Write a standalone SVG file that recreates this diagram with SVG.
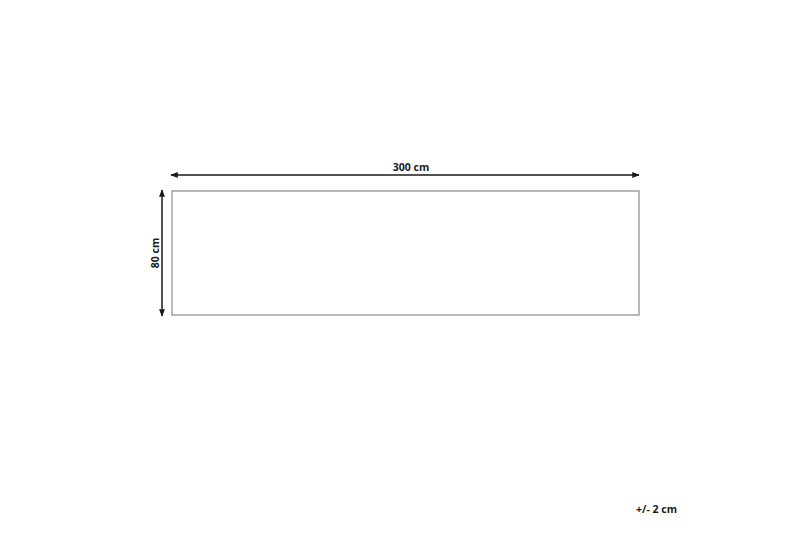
<svg xmlns="http://www.w3.org/2000/svg" width="800" height="533" viewBox="0 0 800 533">
<style>
.t{font-family:"Open Sans","Liberation Sans",sans-serif;font-weight:bold;font-size:10.5px;fill:#1a1a1a}
.d{stroke:#1a1a1a;stroke-width:1.5;fill:none}
</style>
<defs>
<marker id="a" viewBox="0 0 10 10" refX="9" refY="5" markerWidth="5" markerHeight="5" orient="auto-start-reverse" markerUnits="strokeWidth">
<path d="M0,1 L10,5 L0,9 Z" fill="#1a1a1a"/>
</marker>
</defs>
<rect width="800" height="533" fill="#fff"/>
<g id="rug"><rect x="172" y="191" width="467" height="124" fill="none" stroke="#8a8a8a" stroke-width="1.2"/></g>
<g id="connectors">
<line class="d" x1="171" y1="175" x2="639" y2="175" marker-start="url(#a)" marker-end="url(#a)"/>
<line class="d" x1="162" y1="190" x2="162" y2="316" marker-start="url(#a)" marker-end="url(#a)"/>
</g>
<g id="labels">
<text class="t" x="411" y="171" text-anchor="middle">300 cm</text>
<text class="t" transform="translate(159,253) rotate(-90)" text-anchor="middle">80 cm</text>
<text class="t" x="677" y="513" text-anchor="end">+/- 2 cm</text>
</g>
</svg>
